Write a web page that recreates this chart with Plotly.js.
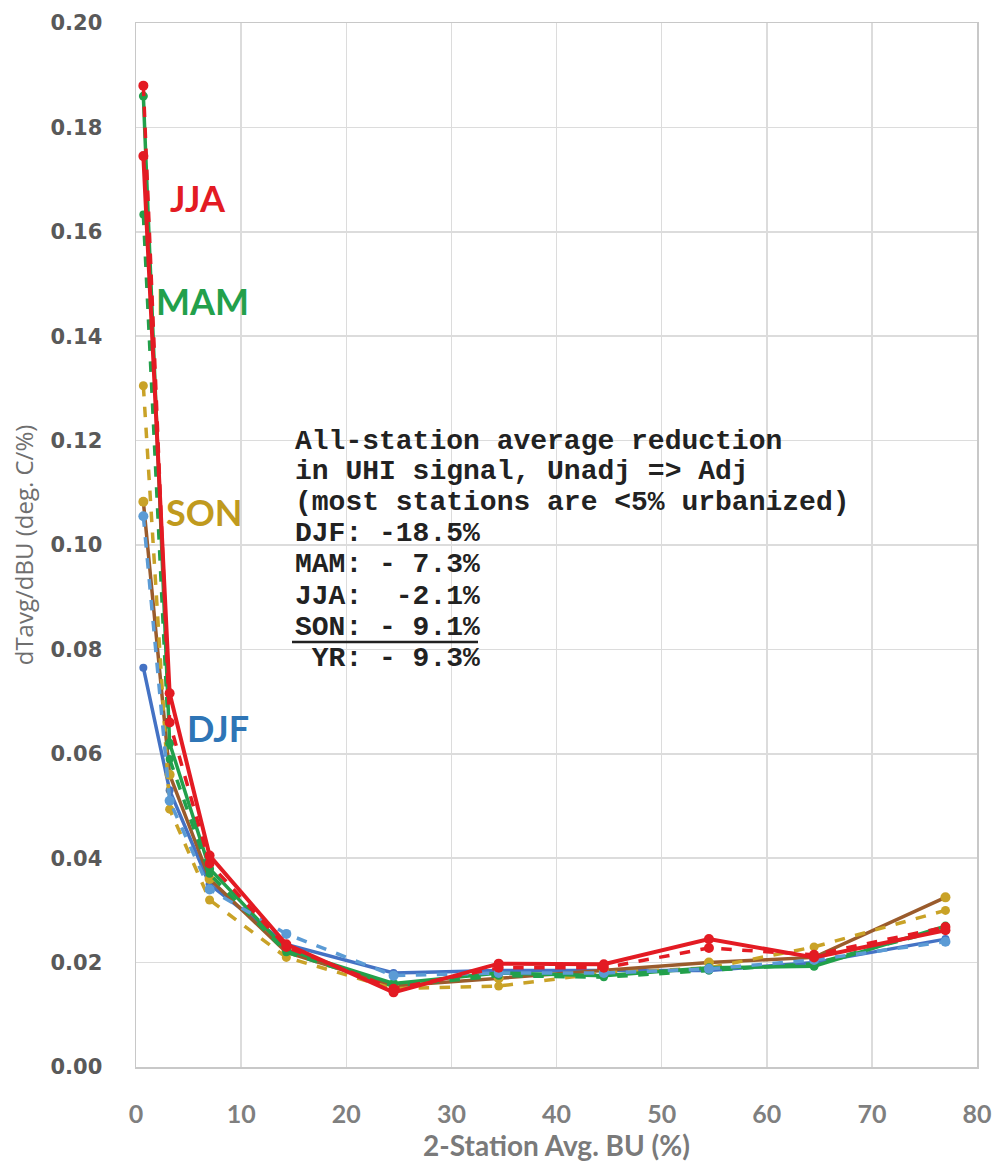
<!DOCTYPE html>
<html>
<head>
<meta charset="utf-8">
<script src="https://cdn.plot.ly/plotly-3.0.1.min.js"></script>
<style>html,body{margin:0;padding:0;background:#fff;}#chart{width:999px;height:1164px;}</style>
</head>
<body>
<div id="chart"></div>
<script>
// Bin centers: 2-station average built-up (%)
const buPct = [0.7, 3.2, 7.0, 14.3, 24.5, 34.5, 44.5, 54.5, 64.5, 77.0];

// dTavg/dBU (deg C / %) per season, two versions each
const djfSolid = [0.0765, 0.053, 0.035, 0.0235, 0.018, 0.0185, 0.0185, 0.0185, 0.020, 0.0245];
const djfDash  = [0.1055, 0.051, 0.034, 0.0255, 0.0175, 0.018, 0.018, 0.0188, 0.0205, 0.024];
const sonSolid = [0.1083, 0.056, 0.036, 0.022, 0.0155, 0.017, 0.0185, 0.020, 0.021, 0.0325];
const sonDash  = [0.1305, 0.0494, 0.032, 0.021, 0.015, 0.0155, 0.018, 0.019, 0.023, 0.030];
const mamSolid = [0.186, 0.062, 0.038, 0.0225, 0.016, 0.018, 0.0175, 0.019, 0.0193, 0.027];
const mamDash  = [0.1633, 0.059, 0.037, 0.022, 0.0155, 0.0175, 0.0172, 0.0185, 0.0198, 0.0265];
const jjaDash  = [0.188, 0.066, 0.039, 0.023, 0.015, 0.019, 0.019, 0.0228, 0.0215, 0.0268];
const jjaSolid = [0.1745, 0.0716, 0.0405, 0.0235, 0.0143, 0.0198, 0.0197, 0.0245, 0.021, 0.0262];

const yTicks = [0, 0.02, 0.04, 0.06, 0.08, 0.10, 0.12, 0.14, 0.16, 0.18, 0.20];
const yTickText = ["0.00","0.02","0.04","0.06","0.08","0.10","0.12","0.14","0.16","0.18","0.20"];
const xTicks = [0, 10, 20, 30, 40, 50, 60, 70, 80];

const seasonLabels = ["JJA", "MAM", "SON", "DJF"];
const noteLines = [
  "All-station average reduction",
  "in UHI signal, Unadj => Adj",
  "(most stations are <5% urbanized)",
  "DJF: -18.5%",
  "MAM: - 7.3%",
  "JJA:  -2.1%",
  "SON: - 9.1%",
  " YR: - 9.3%"
];

const BLUE = "#4472C4", LBLUE = "#5B9BD5", GREEN = "#22A04B", RED = "#E31B23",
      BROWN = "#9A5B2C", GOLD = "#C9A227";

function tr(y, color, dash, width, msize, mcolor) {
  return {
    x: buPct, y: y, type: "scatter", mode: "lines+markers",
    line: {color: color, width: width, dash: dash},
    marker: {color: mcolor || color, size: msize, symbol: "circle"},
    hoverinfo: "skip", showlegend: false
  };
}

const data = [
  tr(djfSolid, BLUE, "solid", 3.5, 8),
  tr(sonSolid, BROWN, "solid", 3.5, 10, GOLD),
  tr(sonDash, GOLD, "dash", 3.5, 9),
  tr(mamSolid, GREEN, "solid", 3.5, 9),
  tr(mamDash, GREEN, "dash", 3.5, 8),
  tr(djfDash, LBLUE, "dash", 3.5, 10),
  tr(jjaDash, RED, "dash", 3.5, 10),
  tr(jjaSolid, RED, "solid", 4, 10)
];

// plot area in pixels
const L = 136, R = 977, T = 23, B = 1067;
function px(xp) { return (xp - L) / (R - L); }
function py(yp) { return (B - yp) / (B - T); }

const annotations = [];
const labelPos = [[198, 198, RED], [202, 301, GREEN], [204, 512, "#C09A1E"], [218, 728, "#2E75B6"]];
seasonLabels.forEach((s, i) => {
  annotations.push({
    xref: "paper", yref: "paper", x: px(labelPos[i][0]), y: py(labelPos[i][1]),
    xanchor: "center", yanchor: "middle", showarrow: false, text: "<b>" + s + "</b>",
    font: {family: "Lato, 'Open Sans', sans-serif", size: 36, color: labelPos[i][2]}
  });
});
const lineY = [442, 472, 502, 533, 564, 596, 627, 658];
noteLines.forEach((t, i) => {
  annotations.push({
    xref: "paper", yref: "paper", x: px(293), y: py(lineY[i]),
    xanchor: "left", yanchor: "middle", showarrow: false,
    text: "<b>" + t.replace(/ /g, "\u00a0").replace(/</g, "&lt;").replace(/>/g, "&gt;") + "</b>",
    font: {family: "'Liberation Mono', 'Courier New', monospace", size: 28, color: "#222222"}
  });
});

const layout = {
  width: 999, height: 1164,
  margin: {l: L, r: 999 - R, t: T, b: 1164 - B, pad: 0},
  paper_bgcolor: "#ffffff", plot_bgcolor: "#ffffff",
  xaxis: {
    range: [0, 80], tickvals: xTicks, showgrid: true, gridcolor: "#dcdcdc", gridwidth: 1.5,
    zeroline: false, showline: true, mirror: true, linecolor: "#c8c8c8", linewidth: 1.5,
    ticks: "", ticklabelstandoff: 24,
    tickfont: {family: "Lato, sans-serif", size: 25, color: "#7f7f7f", weight: "bold"},
    title: {text: "2-Station Avg. BU (%)", standoff: 10,
            font: {family: "Lato, sans-serif", size: 28, color: "#7a7a7a", weight: "bold"}}
  },
  yaxis: {
    range: [0, 0.20], tickvals: yTicks, ticktext: yTickText, showgrid: true, gridcolor: "#dcdcdc", gridwidth: 1.5,
    zeroline: false, showline: true, mirror: true, linecolor: "#c8c8c8", linewidth: 1.5,
    ticks: "", ticklabelstandoff: 28,
    tickfont: {family: "'DejaVu Sans', sans-serif", size: 21, color: "#595959", weight: "bold"},
    title: {text: "dTavg/dBU (deg. C/%)", standoff: 10,
            font: {family: "'Open Sans', sans-serif", size: 24, color: "#6f6f6f"}}
  },
  annotations: annotations,
  shapes: [{
    type: "line", xref: "paper", yref: "paper",
    x0: px(292), x1: px(478), y0: py(642), y1: py(642),
    line: {color: "#222222", width: 2.5}
  }]
};

Plotly.newPlot("chart", data, layout, {displayModeBar: false, staticPlot: true});
</script>
</body>
</html>
